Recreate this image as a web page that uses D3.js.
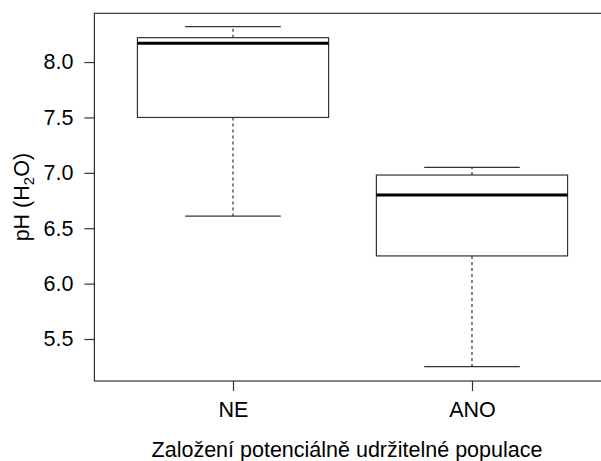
<!DOCTYPE html>
<html>
<head>
<meta charset="utf-8">
<script src="https://cdn.jsdelivr.net/npm/d3@7"></script>
<style>
  html, body { margin: 0; padding: 0; background: #fff; }
  svg { display: block; }
  text { font-family: "Liberation Sans", Arial, sans-serif; fill: #000; }
</style>
</head>
<body>
<svg id="chart" width="601" height="461"></svg>
<script>
// ---- data ----
const categories = ["NE", "ANO"];
const whiskerLow = [6.61, 5.25];
const q1 = [7.50, 6.25];
const median = [8.17, 6.80];
const q3 = [8.22, 6.98];
const whiskerHigh = [8.32, 7.05];
const yTicks = [5.5, 6.0, 6.5, 7.0, 7.5, 8.0];
const xTitle = "Založení potenciálně udržitelné populace";

// ---- layout ----
const svg = d3.select("#chart");
const x = d3.scaleLinear().domain([0.42, 2.58]).range([94.4, 610.6]);
const y = d3.scaleLinear().domain([5.121, 8.44]).range([381, 13.3]);
const fs = 21.5;
const lineCol = "#333";

// frame (left, top, bottom; right edge falls outside the picture)
svg.append("rect")
  .attr("x", x(0.42)).attr("y", y(8.44))
  .attr("width", x(2.58) - x(0.42)).attr("height", y(5.121) - y(8.44))
  .attr("fill", "none").attr("stroke", lineCol).attr("stroke-width", 1.2);

// y axis
const yAxis = d3.axisLeft(y).tickValues(yTicks).tickFormat(d3.format(".1f"))
  .tickSize(10).tickPadding(11);
const ya = svg.append("g").attr("transform", `translate(${x(0.42)},0)`).call(yAxis);
ya.select(".domain").remove();
ya.selectAll("line").attr("stroke", lineCol).attr("stroke-width", 1.2);
ya.selectAll("text").style("font-size", fs + "px").attr("fill", "#000")
  .style("font-family", "'Liberation Sans', Arial, sans-serif");

// x axis
const xAxis = d3.axisBottom(x).tickValues(categories.map((c, i) => i + 1))
  .tickFormat((d) => categories[d - 1]).tickSize(10).tickPadding(11);
const xa = svg.append("g").attr("transform", `translate(0,${y(5.121)})`).call(xAxis);
xa.select(".domain").remove();
xa.selectAll("line").attr("stroke", lineCol).attr("stroke-width", 1.2);
xa.selectAll("text").style("font-size", fs + "px").attr("fill", "#000")
  .style("font-family", "'Liberation Sans', Arial, sans-serif");

// boxes
const boxHalf = 0.4, capHalf = 0.2;
const g = svg.append("g");
categories.forEach((c, i) => {
  const cx = i + 1;
  // whiskers (dashed)
  g.append("line").attr("x1", x(cx)).attr("x2", x(cx))
    .attr("y1", y(q3[i])).attr("y2", y(whiskerHigh[i]))
    .attr("stroke", lineCol).attr("stroke-width", 1.2).attr("stroke-dasharray", "3,3");
  g.append("line").attr("x1", x(cx)).attr("x2", x(cx))
    .attr("y1", y(q1[i])).attr("y2", y(whiskerLow[i]))
    .attr("stroke", lineCol).attr("stroke-width", 1.2).attr("stroke-dasharray", "3,3");
  // caps
  [whiskerHigh[i], whiskerLow[i]].forEach((v) => {
    g.append("line").attr("x1", x(cx - capHalf)).attr("x2", x(cx + capHalf))
      .attr("y1", y(v)).attr("y2", y(v))
      .attr("stroke", lineCol).attr("stroke-width", 1.2);
  });
  // box
  g.append("rect").attr("x", x(cx - boxHalf)).attr("y", y(q3[i]))
    .attr("width", x(cx + boxHalf) - x(cx - boxHalf)).attr("height", y(q1[i]) - y(q3[i]))
    .attr("fill", "#fff").attr("stroke", lineCol).attr("stroke-width", 1.2);
  // median
  g.append("line").attr("x1", x(cx - boxHalf)).attr("x2", x(cx + boxHalf))
    .attr("y1", y(median[i])).attr("y2", y(median[i]))
    .attr("stroke", "#000").attr("stroke-width", 3);
});

// axis titles
svg.append("text").attr("x", 347).attr("y", 457)
  .attr("text-anchor", "middle").style("font-size", fs + "px").text(xTitle);

const yl = svg.append("text").attr("transform", `translate(29,${(y(5.121) + y(8.44)) / 2}) rotate(-90)`)
  .attr("text-anchor", "middle").style("font-size", fs + "px");
yl.append("tspan").text("pH (H");
yl.append("tspan").attr("dy", 5).style("font-size", (fs * 0.7) + "px").text("2");
yl.append("tspan").attr("dy", -5).text("O)");
</script>
</body>
</html>
